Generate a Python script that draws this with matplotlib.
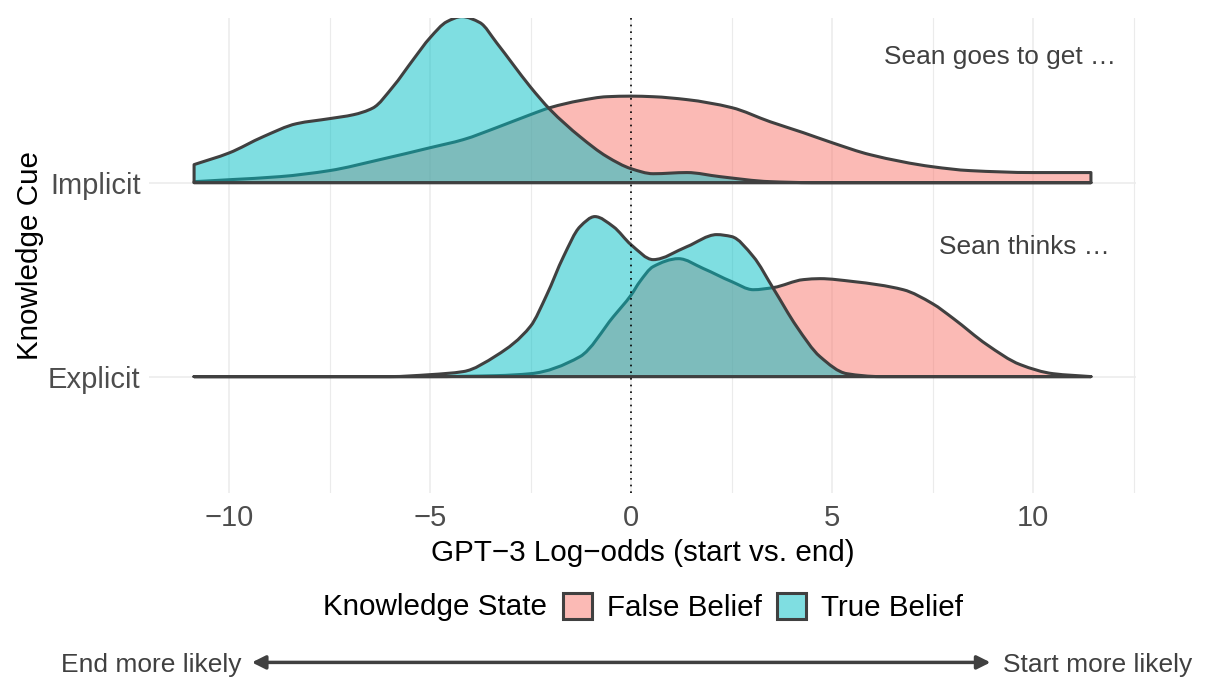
import matplotlib
matplotlib.use("Agg")
import matplotlib.pyplot as plt
from matplotlib.patches import Patch, FancyArrowPatch, PathPatch
from matplotlib.path import Path
import numpy as np

plt.rcParams['font.family'] = ['Liberation Sans', 'DejaVu Sans']

# ---- data ----
cues = ["Explicit", "Implicit"]
states = ["False Belief", "True Belief"]

# Implicit cue ridges (x in log-odds, height as fraction of ridge spacing)
imp_true_x = [-10.87, -10.0, -9.15, -8.32, -7.5, -6.91, -6.42, -5.92, -5.42, -5.0, -4.58, -4.21,
              -3.76, -3.34, -2.93, -2.51, -2.01, -1.27, -0.60, 0.0, 0.55, 1.39, 2.21, 3.46, 4.5, 11.44]
imp_true_h = [0.093, 0.153, 0.237, 0.304, 0.33, 0.35, 0.385, 0.495, 0.634, 0.747, 0.83, 0.856,
              0.825, 0.72, 0.608, 0.495, 0.376, 0.237, 0.134, 0.072, 0.046, 0.052, 0.031, 0.005, 0.0, 0.0]

imp_false_x = [-10.87, -10.0, -8.73, -7.5, -6.24, -5.0, -4.17, -3.34, -2.51, -2.01, -1.27, -0.60,
               0.0, 0.55, 1.39, 2.5, 3.46, 4.28, 5.0, 5.95, 7.5, 8.43, 10.0, 11.44]
imp_false_h = [0.005, 0.015, 0.031, 0.062, 0.119, 0.18, 0.222, 0.284, 0.35, 0.387, 0.423, 0.443,
               0.446, 0.443, 0.428, 0.387, 0.314, 0.258, 0.206, 0.144, 0.082, 0.062, 0.052, 0.052]

# Explicit cue ridges
exp_true_x = [-10.87, -6.0, -5.0, -4.17, -3.34, -2.5, -2.1, -1.68, -1.27, -0.9, -0.44, 0.0, 0.55,
              1.39, 2.13, 2.5, 3.04, 3.54, 4.12, 4.7, 5.37, 6.2, 11.44]
exp_true_h = [0.0, 0.0, 0.01, 0.026, 0.11, 0.26, 0.42, 0.619, 0.773, 0.825, 0.773, 0.68, 0.603,
              0.67, 0.732, 0.722, 0.619, 0.454, 0.258, 0.103, 0.015, 0.0, 0.0]

exp_false_x = [-10.87, -5.0, -3.34, -2.5, -1.27, -0.44, 0.0, 0.22, 0.55, 1.18, 1.8, 2.5, 3.04,
               3.54, 4.29, 4.7, 5.53, 6.77, 7.5, 8.02, 8.85, 9.68, 10.5, 11.44]
exp_false_h = [0.0, 0.0, 0.005, 0.015, 0.103, 0.309, 0.42, 0.49, 0.567, 0.608, 0.557, 0.49, 0.448,
               0.459, 0.5, 0.505, 0.49, 0.448, 0.376, 0.299, 0.165, 0.062, 0.015, 0.0]

x_ticks = [-10, -5, 0, 5, 10]
x_minor = [-7.5, -2.5, 2.5, 7.5, 12.5]
annotations = ["Sean thinks \u2026", "Sean goes to get \u2026"]

# ---- style ----
RED = "#F8766D"
CYAN = "#00BFC4"
EDGE = "#404040"
GRID = "#EBEBEB"

fig = plt.figure(figsize=(12.05, 6.78), dpi=100)
ax = fig.add_axes([0.1237, 0.2729, 0.819, 0.7006])
ax.set_xlim(-11.99, 12.56)
ax.set_ylim(0.40, 2.849)

for sp in ax.spines.values():
    sp.set_visible(False)

for xv in x_ticks:
    ax.axvline(xv, color=GRID, lw=1.1, zorder=0)
for xv in x_minor:
    ax.axvline(xv, color=GRID, lw=0.8, zorder=0)
for yv in [1, 2]:
    ax.axhline(yv, color=GRID, lw=1.1, zorder=0)


def hermite_slopes(x, y):
    # shape-preserving tangents so the smooth outline passes through the read points
    d = np.diff(y) / np.diff(x)
    m = np.zeros_like(y)
    for i in range(1, len(y) - 1):
        if d[i - 1] * d[i] > 0:
            w1 = 2 * (x[i + 1] - x[i]) + (x[i] - x[i - 1])
            w2 = (x[i + 1] - x[i]) + 2 * (x[i] - x[i - 1])
            m[i] = (w1 + w2) / (w1 / d[i - 1] + w2 / d[i])
    m[0] = d[0] if len(d) else 0
    m[-1] = d[-1] if len(d) else 0
    return m


def ridge_path(xs, hs, base):
    xs = np.asarray(xs, float)
    ys = base + np.asarray(hs, float)
    m = hermite_slopes(xs, ys)
    verts = [(xs[0], base), (xs[0], ys[0])]
    codes = [Path.MOVETO, Path.LINETO]
    for i in range(len(xs) - 1):
        dx = xs[i + 1] - xs[i]
        verts += [(xs[i] + dx / 3, ys[i] + m[i] * dx / 3),
                  (xs[i + 1] - dx / 3, ys[i + 1] - m[i + 1] * dx / 3),
                  (xs[i + 1], ys[i + 1])]
        codes += [Path.CURVE4] * 3
    verts += [(xs[-1], base), (xs[0], base)]
    codes += [Path.LINETO, Path.CLOSEPOLY]
    return Path(verts, codes)


def ridge(xs, hs, base, color, z):
    p = ridge_path(xs, hs, base)
    ax.add_patch(PathPatch(p, facecolor=color, alpha=0.5, edgecolor="none", zorder=z))
    ax.add_patch(PathPatch(p, facecolor="none", edgecolor=EDGE, lw=2.2,
                           joinstyle="round", zorder=z + 0.5))


ridge(imp_false_x, imp_false_h, 2, RED, 2)
ridge(imp_true_x, imp_true_h, 2, CYAN, 3)
ridge(exp_false_x, exp_false_h, 1, RED, 4)
ridge(exp_true_x, exp_true_h, 1, CYAN, 5)

ax.axvline(0, color="black", lw=1.2, ls=(0, (1, 3)), zorder=10)

ax.text(12.07, 2.648, annotations[1], ha="right", va="center", fontsize=18.9, color=EDGE, zorder=11)
ax.text(11.9, 1.669, annotations[0], ha="right", va="center", fontsize=18.9, color=EDGE, zorder=11)

ax.set_xticks(x_ticks)
ax.set_xticklabels([f"{v}".replace("-", "\u2212") for v in x_ticks])
ax.set_yticks([1, 2])
ax.set_yticklabels(cues)
ax.tick_params(axis="both", length=0, labelsize=21, labelcolor="#4D4D4D")
ax.tick_params(axis="x", pad=8)
ax.tick_params(axis="y", pad=6)

ax.set_xlabel("GPT\u22123 Log\u2212odds (start vs. end)", fontsize=21.3, labelpad=5)
ax.set_ylabel("Knowledge Cue", fontsize=21.3, labelpad=3)

# legend
fig.text(0.2678, 0.104, "Knowledge State", ha="left", va="center", fontsize=21.3)
handles = [Patch(facecolor=RED, edgecolor=EDGE, lw=2.2),
           Patch(facecolor=CYAN, edgecolor=EDGE, lw=2.2)]
leg = fig.legend(handles, states, loc="center left", bbox_to_anchor=(0.467, 0.104), ncol=2,
                 frameon=False, fontsize=21.3, handlelength=1.0, handleheight=1.0,
                 handletextpad=0.5, columnspacing=0.5, borderaxespad=0, borderpad=0)
for h in leg.legend_handles:
    fc = h.get_facecolor()
    h.set_facecolor((fc[0], fc[1], fc[2], 0.5))
    h.set_edgecolor(EDGE)

# direction arrow
arr = FancyArrowPatch((0.209, 0.023), (0.822, 0.023), transform=fig.transFigure,
                      arrowstyle="<|-|>,head_length=8,head_width=4", color=EDGE, lw=2.5,
                      shrinkA=0, shrinkB=0)
fig.patches.append(arr)
fig.text(0.2005, 0.019, "End more likely", ha="right", va="center", fontsize=19, color=EDGE)
fig.text(0.832, 0.019, "Start more likely", ha="left", va="center", fontsize=19, color=EDGE)

fig.savefig("out.png", dpi=100, facecolor="white")
